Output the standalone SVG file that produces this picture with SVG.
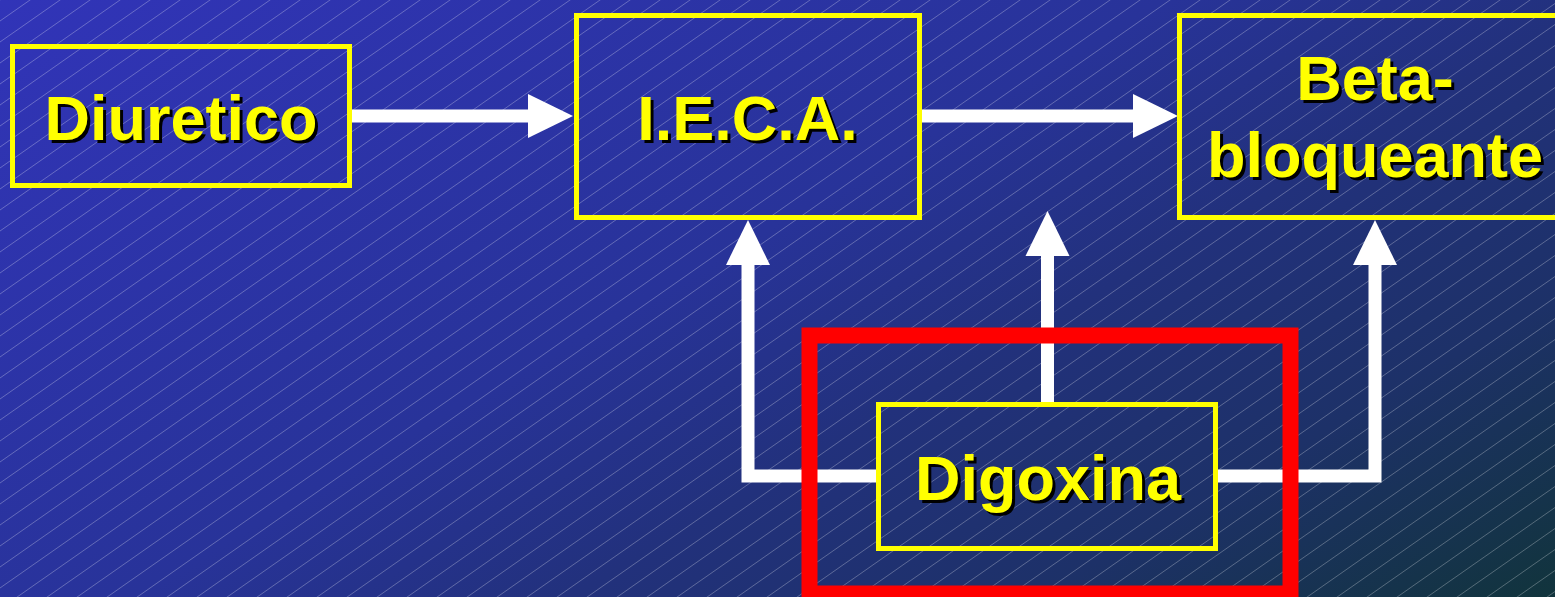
<svg xmlns="http://www.w3.org/2000/svg" width="1555" height="597" viewBox="0 0 1555 597">
  <defs>
    <linearGradient id="bg" x1="0" y1="0" x2="645" y2="1120" gradientUnits="userSpaceOnUse">
      <stop offset="0" stop-color="#3134b8"/>
      <stop offset="0.45" stop-color="#283399"/>
      <stop offset="0.62" stop-color="#22317c"/>
      <stop offset="0.8" stop-color="#1d3168"/>
      <stop offset="1" stop-color="#11343c"/>
    </linearGradient>
    <pattern id="hatch" patternUnits="userSpaceOnUse" width="30" height="21">
      <path d="M-1,21.7 L31,-0.7 M-1,0.7 L1,-0.7 M29,21.7 L31,20.3" stroke="#ffffff" stroke-opacity="0.27" stroke-width="1" fill="none"/>
    </pattern>
    <marker id="head" markerUnits="userSpaceOnUse" markerWidth="46" markerHeight="46" viewBox="0 -23 46 46" refX="0" refY="0" orient="auto" overflow="visible">
      <path d="M0,-22 L45,0 L0,22 Z" fill="#ffffff"/>
    </marker>
    <style>
      .box { fill: none; stroke: #ffff00; stroke-width: 5; }
      .hl { fill: none; stroke: #ff0000; stroke-width: 16; }
      .lbl { font-family: "Liberation Sans", Arial, sans-serif; font-weight: bold; font-size: 63px; text-anchor: middle; }
      .shadow { fill: #000000; }
      .txt { fill: #ffff00; }
      .conn { fill: none; stroke: #ffffff; stroke-width: 13; stroke-linejoin: miter; }
    </style>
  </defs>

  <rect x="0" y="0" width="1555" height="597" fill="url(#bg)"/>
  <rect x="0" y="0" width="1555" height="597" fill="url(#hatch)"/>

  <g id="connectors">
    <path class="conn" d="M352,116 H528" marker-end="url(#head)"/>
    <path class="conn" d="M921,116 H1133" marker-end="url(#head)"/>
    <path class="conn" d="M876,476 H748 V265" marker-end="url(#head)"/>
    <path class="conn" d="M1218,476 H1375 V265" marker-end="url(#head)"/>
    <path class="conn" d="M1047.5,402 V256" marker-end="url(#head)"/>
  </g>

  <g id="highlight">
    <rect class="hl" x="809.5" y="335.5" width="481" height="258"/>
  </g>

  <g id="diuretico">
    <rect class="box" x="12.5" y="46.5" width="337" height="139"/>
    <text class="lbl shadow" x="184" y="143">Diuretico</text>
    <text class="lbl txt" x="181" y="140">Diuretico</text>
  </g>

  <g id="ieca">
    <rect class="box" x="576.5" y="15.5" width="343" height="202"/>
    <text class="lbl shadow" x="750.5" y="143">I.E.C.A.</text>
    <text class="lbl txt" x="747.5" y="140">I.E.C.A.</text>
  </g>

  <g id="betabloqueante">
    <rect class="box" x="1179.5" y="15.5" width="400" height="202"/>
    <text class="lbl shadow" x="1378" y="103">Beta-</text>
    <text class="lbl txt" x="1375" y="100">Beta-</text>
    <text class="lbl shadow" x="1378" y="180">bloqueante</text>
    <text class="lbl txt" x="1375" y="177">bloqueante</text>
  </g>

  <g id="digoxina">
    <rect class="box" x="878.5" y="404.5" width="337" height="144"/>
    <text class="lbl shadow" x="1051" y="503">Digoxina</text>
    <text class="lbl txt" x="1048" y="500">Digoxina</text>
  </g>
</svg>
